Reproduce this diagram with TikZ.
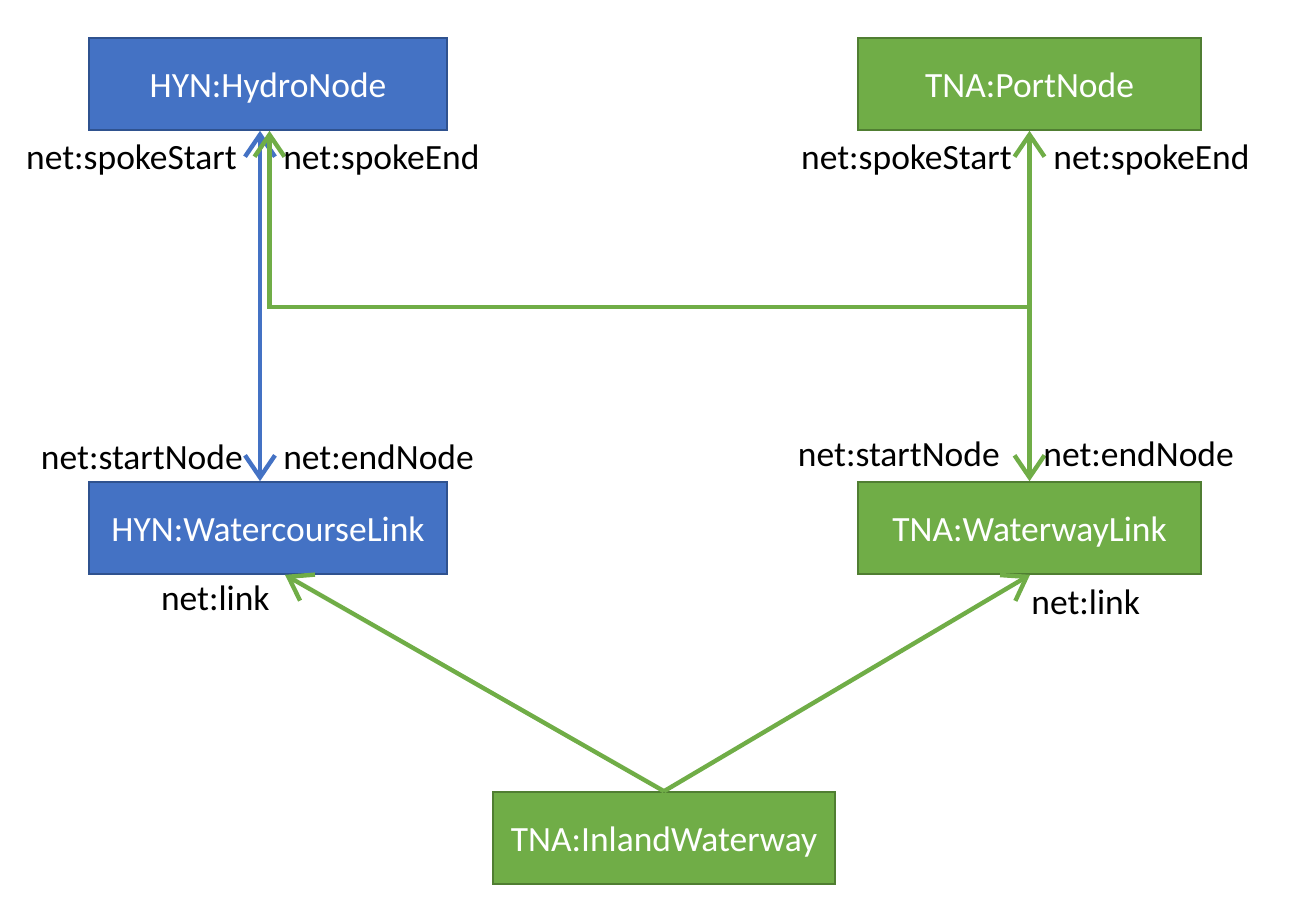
\documentclass[tikz,border=0pt]{standalone}
\usepackage{fontspec}
\setmainfont{Carlito}
\usetikzlibrary{arrows.meta,positioning}

\definecolor{hynblue}{HTML}{4472C4}
\definecolor{hynedge}{HTML}{2F528F}
\definecolor{tnagreen}{HTML}{70AD47}
\definecolor{tnaedge}{HTML}{507E32}

\tikzset{
	cls/.style={draw, line width=0.9pt, minimum height=1.84cm, text=white, inner sep=0pt, text height=15pt, text depth=0pt},
	hyn/.style={cls, fill=hynblue, draw=hynedge},
	tna/.style={cls, fill=tnagreen, draw=tnaedge},
	role/.style={inner sep=0pt, text=black},
	rel/.style={line width=2.5pt, arrows={-Straight Barb[length=0.44cm, width=0.6cm, line width=2.5pt]}},
	relboth/.style={rel, arrows={Straight Barb[length=0.44cm, width=0.6cm, line width=2.5pt]-Straight Barb[length=0.44cm, width=0.6cm, line width=2.5pt]}}
}

\begin{document}
\begin{tikzpicture}[font=\fontsize{20.2}{24}\selectfont]
		\useasboundingbox (0,0) rectangle (25.98,-18.32);
		
		% classes
		\node[hyn, minimum width=7.16cm] (hydro) at (5.36,-1.68) {HYN:HydroNode};
		\node[tna, minimum width=6.86cm] (port) at (20.59,-1.68) {TNA:PortNode};
		\node[hyn, minimum width=7.16cm] (wcl) at (5.36,-10.56) {HYN:WatercourseLink};
		\node[tna, minimum width=6.86cm] (wwl) at (20.59,-10.56) {TNA:WaterwayLink};
		\node[tna, minimum width=6.84cm] (inland) at (13.28,-16.76) {TNA:InlandWaterway};
		
		% hydro network
		\draw[relboth, draw=hynblue] ([xshift=-0.16cm]hydro.south) -- ([xshift=-0.16cm]wcl.north);
		
		% transport network
		\coordinate (junc) at (20.60,-6.14);
		\draw[relboth, draw=tnagreen] (port.south) -- (wwl.north);
		\draw[rel, draw=tnagreen, line cap=rect] (junc) -| ([xshift=0.03cm]hydro.south);
		\draw[rel, draw=tnagreen] (inland.north) -- ([xshift=0.34cm]wcl.south);
		\draw[rel, draw=tnagreen] (inland.north) -- ([xshift=0.01cm]wwl.south);
		
		% roles
		\node[role, anchor=east] (ss1) at (4.74,-3.2) {net:spokeStart};
		\node[role, anchor=west] (se1) at (5.66,-3.2) {net:spokeEnd};
		\node[role, anchor=east] (ss2) at (20.24,-3.2) {net:spokeStart};
		\node[role, anchor=west] (se2) at (21.06,-3.2) {net:spokeEnd};
		\node[role, anchor=east] (sn1) at (4.86,-9.14) {net:startNode};
		\node[role, anchor=west] (en1) at (5.66,-9.14) {net:endNode};
		\node[role, anchor=east] (sn2) at (20.0,-9.08) {net:startNode};
		\node[role, anchor=west] (en2) at (20.86,-9.08) {net:endNode};
		\node[role, anchor=east] (lk1) at (5.4,-11.96) {net:link};
		\node[role, anchor=west] (lk2) at (20.62,-12.04) {net:link};
		
	\end{tikzpicture}
\end{document}
